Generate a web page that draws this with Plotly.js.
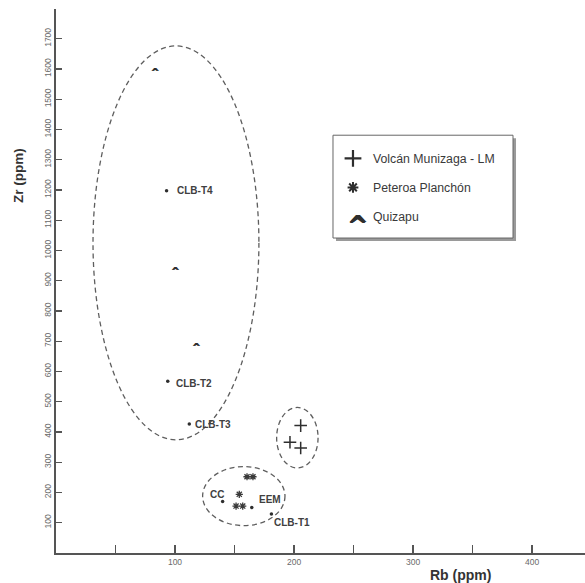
<!DOCTYPE html>
<html>
<head>
<meta charset="utf-8">
<script src="https://cdn.plot.ly/plotly-3.0.1.min.js"></script>
<style>html,body{margin:0;padding:0;background:#fff;}#chart{width:585px;height:583px;}</style>
</head>
<body>
<div id="chart"></div>
<script>
// Quizapu (^)
const rbQuizapu = [83, 100, 117.5];
const zrQuizapu = [1603, 942, 694];
// Volcán Munizaga - LM (+)
const rbMunizaga = [205.6, 196.6, 205.6];
const zrMunizaga = [421, 366, 347];
// Peteroa Planchón (*)
const rbPeteroa = [160.5, 165.5, 154, 151.3, 156.9];
const zrPeteroa = [252, 252, 194, 155, 155];
// Labelled samples (dots)
const sampleNames = ['CLB-T4', 'CLB-T2', 'CLB-T3', 'CC', 'EEM', 'CLB-T1'];
const rbSamples = [92.9, 93.9, 112, 140, 164.5, 181];
const zrSamples = [1197, 568, 426, 170, 150, 129];
// Ellipses: [centerRb, centerZr, radiusRb, radiusZr]
const ellipses = [
  [100.8, 1025, 69.7, 651],
  [202.8, 381, 17.4, 100],
  [157.8, 188, 34.6, 97.5]
];
// Ticks
const xTickVals = [50, 100, 150, 200, 250, 300, 350, 400];
const xTickText = ['', '100', '', '200', '', '300', '', '400'];
const yTickVals = [100, 200, 300, 400, 500, 600, 700, 800, 900, 1000, 1100, 1200, 1300, 1400, 1500, 1600, 1700];
const legendNames = ['Volcán Munizaga - LM', 'Peteroa Planchón', 'Quizapu'];

// label placement (pixel offsets from each dot)
const labelStyle = [
  {xanchor: 'left', xshift: 8.5, yshift: 0},
  {xanchor: 'left', xshift: 6.5, yshift: -2},
  {xanchor: 'left', xshift: 3.5, yshift: 0},
  {xanchor: 'center', xshift: -6, yshift: 7},
  {xanchor: 'left', xshift: 5, yshift: 8},
  {xanchor: 'left', xshift: 1, yshift: -9}
];

const dark = '#2e2e2e';
const traces = [
  {x: rbMunizaga, y: zrMunizaga, mode: 'markers', type: 'scatter', showlegend: false,
   marker: {symbol: 'cross-thin-open', size: 9, color: dark, line: {color: dark, width: 1.5}}},
  {x: rbPeteroa, y: zrPeteroa, mode: 'markers', type: 'scatter', showlegend: false,
   marker: {symbol: 'asterisk-open', size: 6, color: '#3a3a3a', line: {color: '#3a3a3a', width: 1.3}}},
  {x: rbQuizapu, y: zrQuizapu, mode: 'text', type: 'scatter', showlegend: false,
   text: rbQuizapu.map(() => '^'), textposition: 'bottom center',
   textfont: {family: 'DejaVu Sans', size: 10, color: dark, weight: 'bold', shadow: '1px 0 0 #2e2e2e'}},
  {x: rbSamples, y: zrSamples, mode: 'markers', type: 'scatter', showlegend: false,
   marker: {symbol: 'circle', size: 3.5, color: dark}},
  // legend-only entries
  {x: [null], y: [null], mode: 'markers', type: 'scatter', name: legendNames[0], legendgroup: 'a',
   marker: {symbol: 'cross-thin-open', size: 12, color: dark, line: {color: dark, width: 2.2}}},
  {x: [null], y: [null], mode: 'markers', type: 'scatter', name: legendNames[1], legendgroup: 'b',
   marker: {symbol: 'asterisk-open', size: 9, color: dark, line: {color: dark, width: 2}}},
  {x: [null], y: [null], mode: 'markers', type: 'scatter', name: legendNames[2], legendgroup: 'c',
   marker: {symbol: 'circle', size: 1, color: 'rgba(0,0,0,0)', line: {width: 0}}}
];

const shapes = ellipses.map(e => ({
  type: 'circle', xref: 'x', yref: 'y',
  x0: e[0] - e[2], x1: e[0] + e[2], y0: e[1] - e[3], y1: e[1] + e[3],
  line: {color: '#5e5e5e', width: 1.3, dash: '5px,3.5px'}
}));
// legend box with shadow
shapes.push({type: 'rect', xref: 'paper', yref: 'paper', x0: 0.5293, x1: 0.8696, y0: 0.5735, y1: 0.7625,
  fillcolor: '#9a9a9a', line: {width: 0}, layer: 'below'});
shapes.push({type: 'rect', xref: 'paper', yref: 'paper', x0: 0.5236, x1: 0.8639, y0: 0.579, y1: 0.768,
  fillcolor: '#ffffff', line: {color: '#666666', width: 1}, layer: 'below'});

const annotations = sampleNames.map((name, i) => ({
  text: name, x: rbSamples[i], y: zrSamples[i], xref: 'x', yref: 'y', showarrow: false,
  xanchor: labelStyle[i].xanchor, yanchor: 'middle', xshift: labelStyle[i].xshift, yshift: labelStyle[i].yshift,
  font: {family: 'Liberation Sans, Arial, sans-serif', size: 10, color: '#404040', weight: 'bold'}
}));
annotations.push(
  {text: 'Zr (ppm)', xref: 'paper', yref: 'paper', x: -0.0718, y: 0.693, xanchor: 'center', yanchor: 'middle',
   textangle: -90, showarrow: false, font: {size: 13.5, color: '#333', weight: 'bold'}},
  {text: 'Rb (ppm)', xref: 'paper', yref: 'paper', x: 0.764, y: -0.0404, xanchor: 'center', yanchor: 'middle',
   showarrow: false, font: {size: 14, color: '#333', weight: 'bold'}},
  {text: '^', xref: 'paper', yref: 'paper', x: 0.5690, y: 0.6176, xanchor: 'center', yanchor: 'middle', yshift: -7,
   showarrow: false, font: {family: 'DejaVu Sans', size: 25, color: dark, weight: 'bold', shadow: '1px 0 0 #2e2e2e, 0 1px 0 #2e2e2e'}}
);

const layout = {
  width: 585, height: 583,
  margin: {l: 56, r: 0, t: 9, b: 30},
  paper_bgcolor: '#ffffff', plot_bgcolor: '#ffffff',
  font: {family: 'Liberation Sans, Arial, sans-serif', color: dark},
  xaxis: {range: [0, 444.5], showgrid: false, zeroline: false, showline: true, linecolor: '#555', linewidth: 1.6,
    tickmode: 'array', tickvals: xTickVals, ticktext: xTickText, ticks: 'inside', ticklen: 8, tickcolor: '#555', tickwidth: 1.4,
    tickfont: {size: 8.5, color: '#6a6a6a'}},
  yaxis: {range: [0, 1798], showgrid: false, zeroline: false, showline: true, linecolor: '#555', linewidth: 1.6,
    tickmode: 'array', tickvals: yTickVals, ticks: 'inside', ticklen: 6, tickcolor: '#555', tickwidth: 1.2,
    tickangle: -90, tickfont: {size: 8.5, color: '#6a6a6a'}},
  showlegend: true,
  legend: {x: 0.5236, xanchor: 'left', y: 0.752, yanchor: 'top', bgcolor: 'rgba(0,0,0,0)', borderwidth: 0,
    tracegroupgap: 10, font: {size: 12.3, color: '#3a3a3a'}},
  shapes: shapes,
  annotations: annotations
};

Plotly.newPlot('chart', traces, layout, {displayModeBar: false, staticPlot: true});
</script>
</body>
</html>
